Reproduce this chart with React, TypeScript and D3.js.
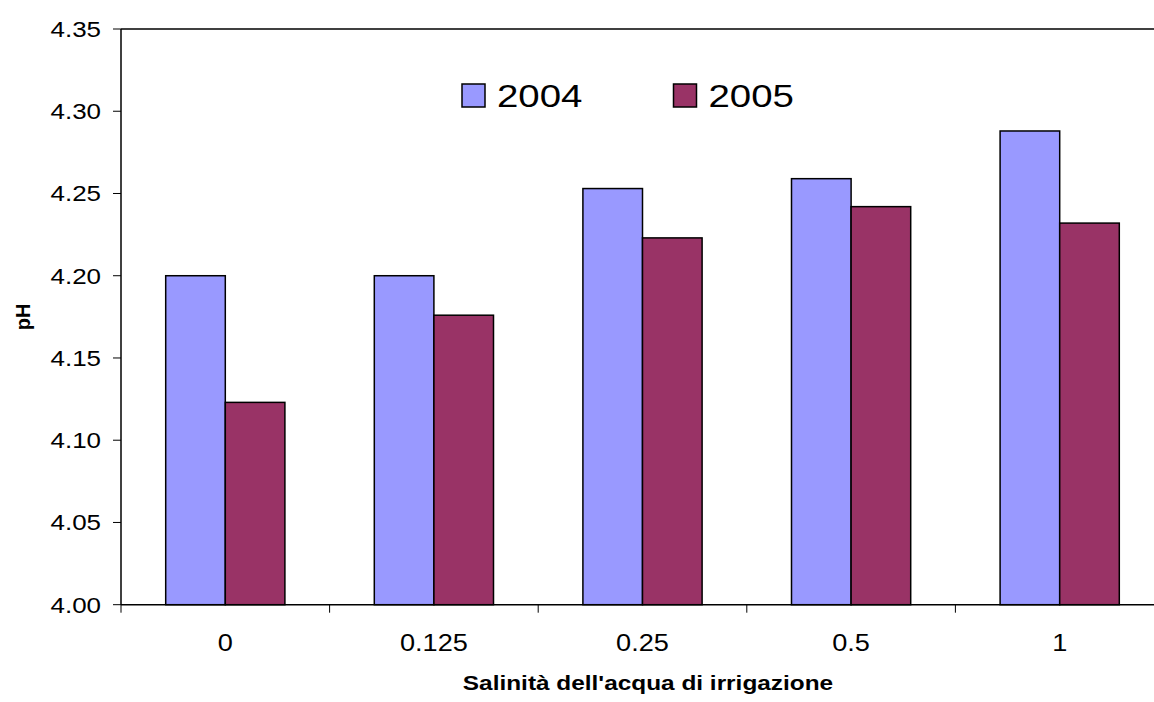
import React from "react";
import * as d3 from "d3";

const categories = ["0", "0.125", "0.25", "0.5", "1"];
const seriesNames = ["2004", "2005"];
const values2004 = [4.2, 4.2, 4.253, 4.259, 4.288];
const values2005 = [4.123, 4.176, 4.223, 4.242, 4.232];
const yTicks = [4.0, 4.05, 4.1, 4.15, 4.2, 4.25, 4.3, 4.35];
const colors = ["#9999FF", "#993366"];

const W = 1154;
const H = 702;
const left = 121;
const top = 29;
const bottom = 604.7;
const catWidth = 208.6;
const right = left + catWidth * categories.length;
const SX = 1.18;

function T(props: { x: number; y: number; size: number; anchor?: string; bold?: boolean; sx?: number; dy?: string; children: React.ReactNode }) {
  const sx = props.sx ?? SX;
  return (
    <text transform={`translate(${props.x},${props.y}) scale(${sx},1)`} dy={props.dy}
      textAnchor={props.anchor ?? "start"} fontSize={props.size} fontWeight={props.bold ? "bold" : "normal"} fill="#000">
      {props.children}
    </text>
  );
}

export default function App() {
  const x = d3.scaleBand<string>().domain(categories).range([left, right]).paddingInner(0).paddingOuter(0);
  const y = d3.scaleLinear().domain([4.0, 4.35]).range([bottom, top]);
  const barW = catWidth / (2 + 1.5);
  const series = [values2004, values2005];

  return (
    <svg width={W} height={H} style={{ position: "absolute", left: 0, top: 0, background: "#fff" }}
      fontFamily="'Liberation Sans', Arial, sans-serif">
      <rect x={0} y={0} width={W} height={H} fill="#fff" />
      {categories.map((c, i) =>
        series.map((vals, s) => {
          const bx = (x(c) as number) + catWidth / 2 - barW + s * barW;
          return (
            <rect key={c + s} x={bx} y={y(vals[i])} width={barW} height={bottom - y(vals[i])}
              fill={colors[s]} stroke="#000" strokeWidth={1.5} />
          );
        })
      )}
      <line x1={left} x2={right} y1={top} y2={top} stroke="#000" strokeWidth={1.5} />
      <line x1={left} x2={left} y1={top} y2={bottom} stroke="#000" strokeWidth={1.5} />
      <line x1={left} x2={right} y1={bottom} y2={bottom} stroke="#000" strokeWidth={1.5} />
      {yTicks.map((t) => (
        <g key={t}>
          <line x1={left - 8} x2={left} y1={y(t)} y2={y(t)} stroke="#000" strokeWidth={1} />
          <T x={101} y={y(t)} dy="0.36em" anchor="end" size={22}>{d3.format(".2f")(t)}</T>
        </g>
      ))}
      {categories.map((c) => (
        <line key={"t" + c} x1={(x(c) as number)} x2={(x(c) as number)} y1={bottom} y2={bottom + 8}
          stroke="#000" strokeWidth={1} />
      ))}
      {categories.map((c) => (
        <T key={"l" + c} x={(x(c) as number) + catWidth / 2} y={651} anchor="middle" size={23}>{c}</T>
      ))}
      <T x={648} y={690} anchor="middle" size={20} bold sx={1.22}>Salinità dell'acqua di irrigazione</T>
      <text transform={`translate(30,317) rotate(-90)`} textAnchor="middle" fontSize={20} fontWeight="bold" fill="#000">
        pH
      </text>
      {seriesNames.map((n, s) => {
        const lx = s === 0 ? 462 : 673.5;
        return (
          <g key={n}>
            <rect x={lx} y={84} width={23} height={23} fill={colors[s]} stroke="#000" strokeWidth={1.5} />
            <T x={lx + 35} y={106.5} size={31} sx={1.24}>{n}</T>
          </g>
        );
      })}
    </svg>
  );
}
